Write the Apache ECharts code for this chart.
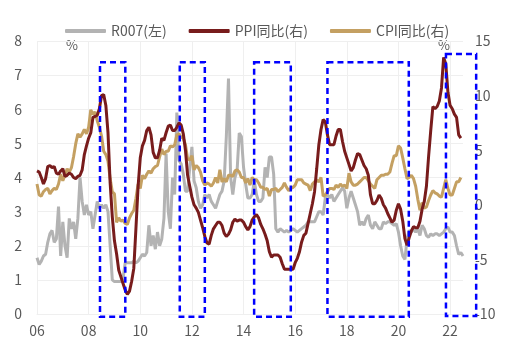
<!DOCTYPE html>
<html lang="zh">
<head>
<meta charset="UTF-8">
<title>R007与PPI、CPI同比</title>
<script src="https://cdn.jsdelivr.net/npm/echarts@6/dist/echarts.min.js"></script>
</head>
<body style="margin:0">
<div id="main" style="width:508px;height:342px;"></div>
<script>
// 月度类目：2006-01 ~ 2022-07
const months = [];
for (let y = 2006; y <= 2022; y++) {
    for (let m = 1; m <= 12; m++) {
        if (y === 2022 && m > 7) break;
        months.push(y + '-' + (m < 10 ? '0' + m : m));
    }
}

// R007 月均（左轴，%）
const r007 = [
    1.65, 1.45, 1.55, 1.7, 1.75, 2.1, 2.35, 2.45, 2.1, 2.2, 3.15, 1.7,
    2.7, 2.0, 1.65, 2.8, 2.5, 2.7, 2.2, 2.8, 4.0, 3.3, 2.9, 3.2,
    2.9, 3.0, 2.5, 2.9, 3.3, 3.1, 3.2, 3.1, 3.2, 3.0, 2.0, 1.0,
    0.95, 0.95, 0.95, 0.95, 1.05, 1.5, 1.5, 1.5, 1.5, 1.55, 1.5, 1.55,
    1.65, 1.75, 1.7, 1.8, 2.6, 2.0, 2.3, 1.9, 2.4, 2.0, 2.2, 2.8,
    4.7, 3.0, 2.5, 4.0, 3.5, 5.9, 4.5, 4.4, 4.1, 3.6, 3.6, 4.3,
    4.9, 3.9, 3.7, 3.3, 3.1, 3.2, 3.5, 3.4, 3.5, 3.3, 3.2, 3.1,
    3.3, 3.5, 3.6, 3.9, 5.2, 6.9, 4.0, 3.5, 4.0, 4.2, 5.3, 5.2,
    4.3, 3.8, 3.4, 3.4, 3.5, 3.9, 3.5, 3.3, 3.3, 3.4, 4.3, 4.0,
    4.6, 4.6, 4.1, 2.5, 2.4, 2.5, 2.45, 2.4, 2.45, 2.4, 2.45, 2.5,
    2.45, 2.4, 2.45, 2.5, 2.55, 2.6, 2.7, 2.7, 2.7, 2.7, 2.85, 3.0,
    3.0, 2.9, 3.4, 3.5, 3.4, 3.5, 3.3, 3.4, 3.5, 3.6, 3.7, 3.6,
    3.1, 3.4, 3.6, 3.4, 3.2, 3.0, 2.6, 2.7, 2.6, 2.8, 2.9, 2.6,
    2.5, 2.7, 2.6, 2.5, 2.5, 2.7, 2.65, 2.7, 2.7, 2.65, 2.6, 2.65,
    2.4, 2.0, 1.7, 1.6, 2.2, 2.45, 2.4, 2.5, 2.4, 2.5, 2.3, 2.6,
    2.5, 2.3, 2.25, 2.35, 2.3, 2.35, 2.35, 2.3, 2.35, 2.4, 2.5, 2.55,
    2.4, 2.4, 2.3, 2.0, 1.75, 1.8, 1.7
];

// PPI 同比（右轴，%）
const ppi = [
    3.1, 3.0, 2.5, 1.9, 2.4, 3.5, 3.6, 3.4, 3.5, 2.9, 2.8, 3.1,
    3.3, 2.6, 2.7, 2.9, 2.8, 2.5, 2.4, 2.6, 2.7, 3.2, 4.6, 5.4,
    6.1, 6.6, 8.0, 8.1, 8.2, 8.8, 10.0, 10.1, 9.1, 6.6, 2.0, -1.1,
    -3.3, -4.5, -6.0, -6.6, -7.2, -7.8, -8.2, -7.9, -7.0, -5.8, -2.1, 1.7,
    4.3, 5.4, 5.9, 6.8, 7.1, 6.4, 4.8, 4.3, 4.3, 5.0, 6.1, 5.9,
    6.6, 7.2, 7.3, 6.8, 6.8, 7.1, 7.5, 7.3, 6.5, 5.0, 2.7, 1.7,
    0.7, 0.0, -0.3, -0.7, -1.4, -2.1, -2.9, -3.5, -3.6, -2.8, -2.2, -1.9,
    -1.6, -1.6, -1.9, -2.6, -2.9, -2.7, -2.3, -1.6, -1.3, -1.5, -1.4, -1.4,
    -1.6, -2.0, -2.3, -2.0, -1.4, -1.1, -0.9, -1.2, -1.8, -2.2, -2.7, -3.3,
    -4.3, -4.8, -4.6, -4.6, -4.6, -4.8, -5.4, -5.9, -5.9, -5.9, -5.9, -5.9,
    -5.3, -4.9, -4.3, -3.4, -2.8, -2.6, -1.7, -0.8, 0.1, 1.2, 3.3, 5.5,
    6.9, 7.8, 7.6, 6.4, 5.5, 5.5, 5.5, 6.3, 6.9, 6.9, 5.8, 4.9,
    4.3, 3.7, 3.1, 3.4, 4.1, 4.7, 4.6, 4.1, 3.6, 3.3, 2.7, 0.9,
    0.1, 0.1, 0.4, 0.9, 0.6, 0.0, -0.3, -0.8, -1.2, -1.6, -1.4, -0.5,
    0.1, -0.4, -1.5, -3.1, -3.7, -3.0, -2.4, -2.0, -2.1, -2.1, -1.5, -0.4,
    0.3, 1.7, 4.4, 6.8, 9.0, 8.8, 9.0, 9.5, 10.7, 13.5, 12.9, 10.3,
    9.1, 8.8, 8.3, 8.0, 6.4, 6.1, null
];

// CPI 同比（右轴，%）
const cpi = [
    1.9, 0.9, 0.8, 1.2, 1.4, 1.5, 1.0, 1.3, 1.5, 1.4, 1.9, 2.8,
    2.2, 2.7, 3.3, 3.0, 3.4, 4.4, 5.6, 6.5, 6.2, 6.5, 6.9, 6.5,
    7.1, 8.7, 8.3, 8.5, 7.7, 7.1, 6.3, 4.9, 4.6, 4.0, 2.4, 1.2,
    1.0, -1.6, -1.2, -1.5, -1.4, -1.7, -1.8, -1.2, -0.8, -0.5, 0.6, 1.9,
    1.5, 2.7, 2.4, 2.8, 3.1, 2.9, 3.3, 3.5, 3.6, 4.4, 5.1, 4.6,
    4.9, 4.9, 5.4, 5.3, 5.5, 6.4, 6.5, 6.2, 6.1, 5.5, 4.2, 4.1,
    4.5, 3.2, 3.6, 3.4, 3.0, 2.2, 1.8, 2.0, 1.9, 1.7, 2.0, 2.5,
    2.0, 3.2, 2.1, 2.4, 2.1, 2.7, 2.7, 2.6, 3.1, 3.2, 3.0, 2.5,
    2.5, 2.0, 2.4, 1.8, 2.5, 2.3, 2.3, 2.0, 1.6, 1.6, 1.4, 1.5,
    0.8, 1.4, 1.4, 1.5, 1.2, 1.4, 1.6, 2.0, 1.6, 1.3, 1.5, 1.6,
    1.8, 2.3, 2.3, 2.3, 2.0, 1.9, 1.8, 1.3, 1.9, 2.1, 2.3, 2.1,
    2.5, 0.8, 0.9, 1.2, 1.5, 1.5, 1.4, 1.8, 1.6, 1.9, 1.7, 1.8,
    1.5, 2.9, 2.1, 1.8, 1.8, 1.9, 2.1, 2.3, 2.5, 2.5, 2.2, 1.9,
    1.7, 1.5, 2.3, 2.5, 2.7, 2.7, 2.8, 2.8, 3.0, 3.8, 4.5, 4.5,
    5.4, 5.2, 4.3, 3.3, 2.4, 2.5, 2.7, 2.4, 1.7, 0.5, -0.5, 0.2,
    -0.3, -0.2, 0.4, 0.9, 1.3, 1.1, 1.0, 0.8, 0.7, 1.5, 2.3, 1.5,
    0.9, 0.9, 1.5, 2.1, 2.1, 2.5, null
];

// 蓝色虚线框：起止时间（年）与上下沿（左轴数值）
const boxStart = [2008.44, 2011.53, 2014.41, 2017.25, 2021.84];
const boxEnd = [2009.42, 2012.50, 2015.83, 2020.40, 2023.01];
const boxTop = [7.38, 7.38, 7.38, 7.38, 7.62];
const boxBottom = [-0.08, -0.08, -0.08, -0.08, -0.06];

const boxData = boxStart.map((s, i) => [s, boxEnd[i], boxTop[i], boxBottom[i]]);

const labelColor = '#595959';
const gridColor = '#efefef';

const myChart = echarts.init(document.getElementById('main'));

const option = {
    animation: false,
    textStyle: { fontFamily: 'Noto Sans CJK SC' },
    legend: {
        data: ['R007(左)', 'PPI同比(右)', 'CPI同比(右)'],
        left: 60,
        top: 19,
        icon: 'roundRect',
        itemWidth: 41,
        itemHeight: 4,
        itemGap: 22,
        textStyle: { fontSize: 14, color: labelColor }
    },
    grid: { left: 37, right: 45, top: 41, bottom: 28 },
    graphic: [
        { type: 'text', left: 66, top: 39, style: { text: '%', fontSize: 13, fill: labelColor, fontFamily: 'Noto Sans CJK SC' } },
        { type: 'text', left: 438, top: 39, style: { text: '%', fontSize: 13, fill: labelColor, fontFamily: 'Noto Sans CJK SC' } }
    ],
    xAxis: [
        {
            type: 'category',
            data: months,
            boundaryGap: false,
            axisTick: { show: false },
            axisLine: { lineStyle: { color: gridColor } },
            axisLabel: {
                interval: 23,
                margin: 10,
                fontSize: 14,
                color: labelColor,
                formatter: v => v.slice(2, 4)
            },
            splitLine: { show: true, interval: 23, lineStyle: { color: gridColor } }
        },
        { type: 'value', min: 2006, max: 2022.5, show: false }
    ],
    yAxis: [
        {
            type: 'value',
            min: 0,
            max: 8,
            interval: 1,
            axisLine: { show: false },
            axisTick: { show: false },
            axisLabel: { fontSize: 14, color: labelColor, margin: 15 },
            splitLine: { lineStyle: { color: gridColor } }
        },
        {
            type: 'value',
            min: -10,
            max: 15,
            interval: 5,
            axisLine: { show: false },
            axisTick: { show: false },
            axisLabel: { fontSize: 14, color: labelColor, margin: 12 },
            splitLine: { show: false }
        }
    ],
    series: [
        {
            name: 'R007(左)',
            type: 'line',
            data: r007,
            yAxisIndex: 0,
            symbol: 'none',
            lineStyle: { width: 3, color: '#b3b3b3' },
            itemStyle: { color: '#b3b3b3' }
        },
        {
            name: 'CPI同比(右)',
            type: 'line',
            data: cpi,
            yAxisIndex: 1,
            symbol: 'none',
            lineStyle: { width: 3, color: '#c4a062' },
            itemStyle: { color: '#c4a062' }
        },
        {
            name: 'PPI同比(右)',
            type: 'line',
            data: ppi,
            yAxisIndex: 1,
            symbol: 'none',
            lineStyle: { width: 3, color: '#781c1c' },
            itemStyle: { color: '#781c1c' }
        },
        {
            type: 'custom',
            xAxisIndex: 1,
            yAxisIndex: 0,
            silent: true,
            z: 5,
            data: boxData,
            encode: { x: [0, 1], y: [2, 3] },
            renderItem: function (params, api) {
                const p1 = api.coord([api.value(0), api.value(2)]);
                const p2 = api.coord([api.value(1), api.value(3)]);
                return {
                    type: 'rect',
                    shape: { x: p1[0], y: p1[1], width: p2[0] - p1[0], height: p2[1] - p1[1] },
                    style: { fill: 'none', stroke: '#0000ff', lineWidth: 2.5, lineDash: [6, 4] }
                };
            }
        }
    ]
};
myChart.setOption(option);
</script>
</body>
</html>
